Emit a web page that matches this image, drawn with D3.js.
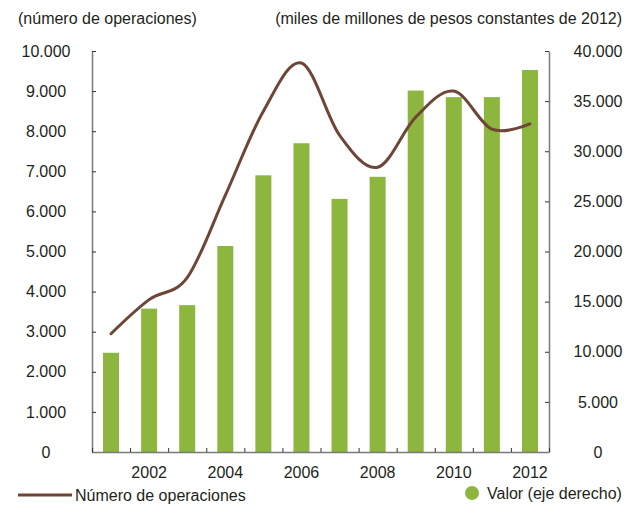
<!DOCTYPE html>
<html>
<head>
<meta charset="utf-8">
<script src="https://cdn.jsdelivr.net/npm/d3@7"></script>
<style>
  body { margin: 0; background: #fff; }
  svg text { font-family: "Liberation Sans", Arial, sans-serif; font-size: 16px; fill: #231f20; }
</style>
</head>
<body>
<svg width="628" height="509"></svg>
<script>
// data
const years = [2001, 2002, 2003, 2004, 2005, 2006, 2007, 2008, 2009, 2010, 2011, 2012];
const operaciones = [2950, 3800, 4350, 6400, 8500, 9700, 7900, 7100, 8350, 9000, 8050, 8180];
const valor = [9900, 14300, 14650, 20550, 27600, 30800, 25250, 27450, 36050, 35400, 35400, 38100];
const leftTicks = [0, 1000, 2000, 3000, 4000, 5000, 6000, 7000, 8000, 9000, 10000];
const rightTicks = [0, 5000, 10000, 15000, 20000, 25000, 30000, 35000, 40000];
const yearLabels = [2002, 2004, 2006, 2008, 2010, 2012];

const plotL = 92, plotR = 549, plotT = 51, plotB = 452;
const green = "#8db63e", brown = "#6e4638", axisCol = "#7a7a7a";

const svg = d3.select("svg");
const fmt = d3.format(",");
const esFmt = d => fmt(d).replace(/,/g, ".");

const x = d3.scaleBand().domain(years).range([plotL, plotR])
    .paddingInner(0.58).paddingOuter(0.29);
const xEdge = d3.scaleLinear().domain([0, years.length]).range([plotL, plotR]);
const yL = d3.scaleLinear().domain([0, 10000]).range([plotB, plotT]);
const yR = d3.scaleLinear().domain([0, 40000]).range([plotB, plotT]);

// bars
svg.append("g")
  .selectAll("rect")
  .data(years)
  .join("rect")
    .attr("x", d => x(d))
    .attr("width", x.bandwidth())
    .attr("y", (d, i) => yR(valor[i]))
    .attr("height", (d, i) => plotB - yR(valor[i]))
    .attr("fill", green);

// line
const line = d3.line()
    .x((d, i) => x(years[i]) + x.bandwidth() / 2)
    .y(d => yL(d))
    .curve(d3.curveCatmullRom.alpha(0));

svg.append("path")
    .datum(operaciones)
    .attr("fill", "none")
    .attr("stroke", brown)
    .attr("stroke-width", 3)
    .attr("stroke-linecap", "round")
    .attr("d", line);

function styleAxis(g) {
  g.attr("font-family", null).attr("font-size", null);
  g.selectAll(".domain").attr("stroke", axisCol).attr("stroke-width", 1.5);
  g.selectAll(".tick line").attr("stroke", "#333").attr("stroke-width", 1);
  g.selectAll("text").attr("fill", null);
}

// left axis
const gl = svg.append("g")
    .attr("transform", `translate(${plotL},0)`)
    .call(d3.axisLeft(yL).tickValues(leftTicks).tickFormat(esFmt).tickSize(-4).tickSizeOuter(0));
gl.selectAll("text").attr("x", -46).attr("text-anchor", "middle");
styleAxis(gl);

// right axis
const gr = svg.append("g")
    .attr("transform", `translate(${plotR},0)`)
    .call(d3.axisRight(yR).tickValues(rightTicks).tickFormat(esFmt).tickSize(-4).tickSizeOuter(0));
gr.selectAll("text").attr("x", 49).attr("text-anchor", "middle");
styleAxis(gr);

// bottom axis: ticks between years
const gb = svg.append("g")
    .attr("transform", `translate(0,${plotB})`)
    .call(d3.axisBottom(xEdge).ticks(12).tickFormat("").tickSize(-4).tickSizeOuter(0));
styleAxis(gb);

// year labels
const gy = svg.append("g")
    .attr("transform", `translate(0,${plotB})`)
    .call(d3.axisBottom(x).tickValues(yearLabels).tickSize(0).tickPadding(15));
gy.select(".domain").remove();
styleAxis(gy);

// axis titles
svg.append("text").attr("x", 18).attr("y", 24).text("(número de operaciones)");
svg.append("text").attr("x", 622).attr("y", 24).attr("text-anchor", "end")
    .text("(miles de millones de pesos constantes de 2012)");

// legend
svg.append("line").attr("x1", 18).attr("x2", 72).attr("y1", 495).attr("y2", 495)
    .attr("stroke", brown).attr("stroke-width", 3);
svg.append("text").attr("x", 75).attr("y", 501).text("Número de operaciones");
svg.append("circle").attr("cx", 472).attr("cy", 493).attr("r", 7).attr("fill", green);
svg.append("text").attr("x", 487).attr("y", 499).text("Valor (eje derecho)");
</script>
</body>
</html>
